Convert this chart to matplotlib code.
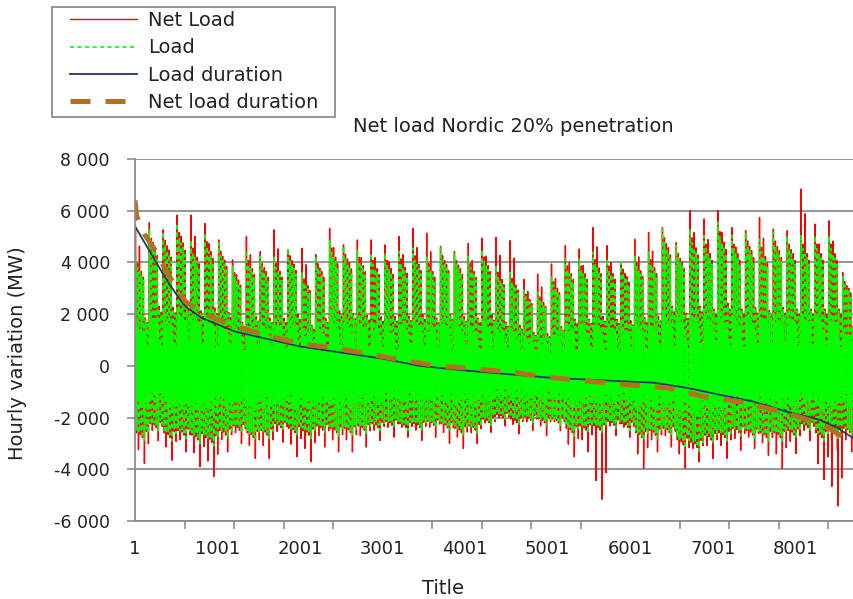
import numpy as np
import matplotlib
matplotlib.use("Agg")
import matplotlib.pyplot as plt
from matplotlib.patches import Rectangle
from matplotlib.ticker import FixedLocator, FuncFormatter

# weekly extremes (MW), 52 weeks
net_peak = [5385, 5540, 5260, 5830, 5830, 5510, 4870, 4100, 5000, 4420, 5260, 4490, 4550,
            4300, 5320, 4680, 4870, 4870, 4680, 5000, 5320, 5130, 4620, 4420, 4740, 4940,
            4970, 4840, 3350, 3550, 3940, 4650, 4520, 5350, 4650, 4000, 4900, 5160, 5350,
            4770, 6000, 5680, 6000, 5350, 5230, 5740, 5290, 5230, 6840, 5480, 5610, 3610]
load_peak = [4230, 5260, 5190, 5510, 4870, 5130, 4740, 3850, 4360, 4230, 4230, 4550, 3590,
             4230, 4870, 4620, 4490, 4360, 4360, 4420, 4550, 4230, 4550, 4360, 4230, 4490,
             3870, 3610, 2970, 2840, 3480, 4130, 4130, 4390, 4130, 4000, 4260, 4390, 5290,
             4650, 5290, 5030, 5550, 5030, 5160, 4900, 5160, 5030, 5030, 5030, 5030, 3480]
net_low = [-3770, -2900, -3650, -3330, -3900, -4280, -3330, -3010, -3580, -3580, -2950, -3520,
           -3710, -3140, -3330, -3330, -3140, -2890, -2760, -2760, -2890, -2760, -3000, -3200,
           -3010, -2570, -2320, -2630, -2510, -2700, -2510, -3520, -3330, -5160, -2700, -2760,
           -3960, -3330, -3140, -3960, -3710, -3580, -3580, -3270, -3200, -3460, -3960, -3390,
           -2900, -4400, -5420, -3330]
load_low = [-2900, -2500, -2900, -2800, -3000, -3100, -2800, -2600, -2900, -2800, -2500, -2700,
            -2800, -2600, -2700, -2700, -2600, -2500, -2400, -2500, -2500, -2400, -2500, -2700,
            -2600, -2300, -2100, -2300, -2200, -2300, -2300, -2700, -2600, -2600, -2400, -2500,
            -2900, -2800, -2700, -3200, -3300, -3000, -2900, -2700, -2800, -2900, -2900, -2800,
            -2500, -2900, -2800, -2700]

# share of the weekly extreme reached on each day (Mon..Sun)
day_high_share = [1.0, 0.9, 0.86, 0.83, 0.78, 0.42, 0.38]
day_low_share = [0.86, 0.9, 0.88, 0.92, 1.0, 0.84, 0.9]
# second red spike of the week (share of the weekly net extreme)
net_top2 = {2: 0.86}
net_bottom2 = {1: 0.86, 6: 0.8}
# points within a day: hour, and share of the day's high (+) or low (-)
day_hours = [0, 2, 4, 6, 8, 10, 12, 14, 16, 18, 20, 22]
day_shape = [-0.45, 0.3, 0.6, 1.0, 0.55, -0.45, 0.4, -0.6, 0.35, -1.0, -0.7, 0.3]

# duration curves
load_dur_h = [1, 120, 240, 360, 490, 610, 810, 1010, 1210, 2000, 3000, 3450, 4000, 5070,
              6280, 6690, 7090, 7490, 7900, 8300, 8510, 8700, 8760]
load_dur_v = [5400, 4750, 4100, 3450, 2820, 2300, 1850, 1590, 1330, 750, 280, 0, -180, -470,
              -650, -850, -1120, -1380, -1770, -2090, -2400, -2790, -3000]
net_dur_h = [1, 20, 120, 240, 360, 490, 610, 810, 1010, 1210, 2000, 2400, 2880, 3220, 3670,
             4150, 4590, 5070, 5520, 5960, 6450, 6890, 7340, 7900, 8340, 8670, 8760]
net_dur_v = [6400, 5800, 5070, 4490, 3790, 3070, 2490, 2050, 1780, 1520, 850, 700, 430, 230, 0,
             -120, -260, -460, -600, -730, -850, -1190, -1390, -1820, -2280, -2930, -3150]


def hourly(peaks, lows, top=None, bottom=None):
    # top/bottom: weekly net extremes that replace some daily highs and lows
    hrs, vals = [], []
    for d in range(365):
        w = min(d // 7, 51)
        dow = d % 7
        hi = peaks[w] * day_high_share[dow]
        lo = lows[w] * day_low_share[dow]
        if top is not None:
            if dow == 0:
                hi = top[w]
            elif dow in net_top2:
                hi = max(hi * 1.04, top[w] * net_top2[dow])
            else:
                hi = hi * 1.04
            if dow == 4:
                lo = bottom[w]
            elif dow in net_bottom2:
                lo = min(lo * 1.04, bottom[w] * net_bottom2[dow])
            else:
                lo = lo * 1.04
        for h, s in zip(day_hours, day_shape):
            hrs.append(1 + d * 24 + h)
            vals.append(s * hi if s >= 0 else -s * lo)
    return np.array(hrs), np.array(vals)


hrs, load = hourly(load_peak, load_low)
_, net = hourly(load_peak, load_low, net_peak, net_low)

fig = plt.figure(figsize=(8.54, 5.99), dpi=100)
ax = fig.add_axes([135 / 854, 78 / 599, 723 / 854, 362 / 599])

ax.plot(hrs, net, color="#ff0000", lw=1.0, label="Net Load")
ax.plot(hrs, load, color="#00ff00", lw=1.2, ls=(0, (2.5, 2)), label="Load")
ax.plot(load_dur_h, load_dur_v, color="#1f3864", lw=1.3, label="Load duration")
ax.plot(net_dur_h, net_dur_v, color="#b5701f", lw=3.6, ls=(0, (4, 3)), label="Net load duration")

ax.set_xlim(1, 8760)
ax.set_ylim(-6000, 8000)
ax.set_yticks(range(-6000, 8001, 2000))
ax.yaxis.set_major_formatter(FuncFormatter(lambda v, p: f"{int(v):,}".replace(",", " ")))
ax.xaxis.set_major_locator(FixedLocator(list(range(1, 8761, 1000))))
ax.xaxis.set_minor_locator(FixedLocator(list(range(1, 8761, 600))))
ax.tick_params(axis="x", which="major", length=0, pad=14, labelsize=13, labelcolor="#222222")
ax.tick_params(axis="x", which="minor", length=6, color="#8c8c8c", width=1.2)
ax.tick_params(axis="y", length=6, color="#8c8c8c", width=1.2, labelsize=12.5,
               labelcolor="#222222", pad=12)
ax.grid(axis="y", color="#8c8c8c", lw=1.3)
ax.set_axisbelow(True)
for s in ["top", "right"]:
    ax.spines[s].set_visible(False)
for s in ["left", "bottom"]:
    ax.spines[s].set_color("#8c8c8c")
    ax.spines[s].set_linewidth(1.3)

fig.text(513 / 854, 1 - 126 / 599, "Net load Nordic 20% penetration", ha="center", va="center",
         fontsize=14, color="#222222")
fig.text(443 / 854, 1 - 588 / 599, "Title", ha="center", va="center", fontsize=14, color="#222222")
fig.text(18 / 854, 1 - 353 / 599, "Hourly variation (MW)", ha="center", va="center",
         rotation=90, fontsize=14, color="#222222")

# legend box drawn separately so the padding matches the original
fig.patches.append(Rectangle((52 / 854, 1 - 117 / 599), 283 / 854, 110 / 599,
                             transform=fig.transFigure, fill=False, ec="#8c8c8c", lw=1.3))
leg = fig.legend(loc="upper left", bbox_to_anchor=(70 / 854, 1 - 11 / 599), fontsize=14,
                 frameon=False, handlelength=3.45, labelspacing=0.43, borderpad=0,
                 borderaxespad=0, handletextpad=0.55)
for t in leg.get_texts():
    t.set_color("#222222")

fig.savefig("out.png", dpi=100)
